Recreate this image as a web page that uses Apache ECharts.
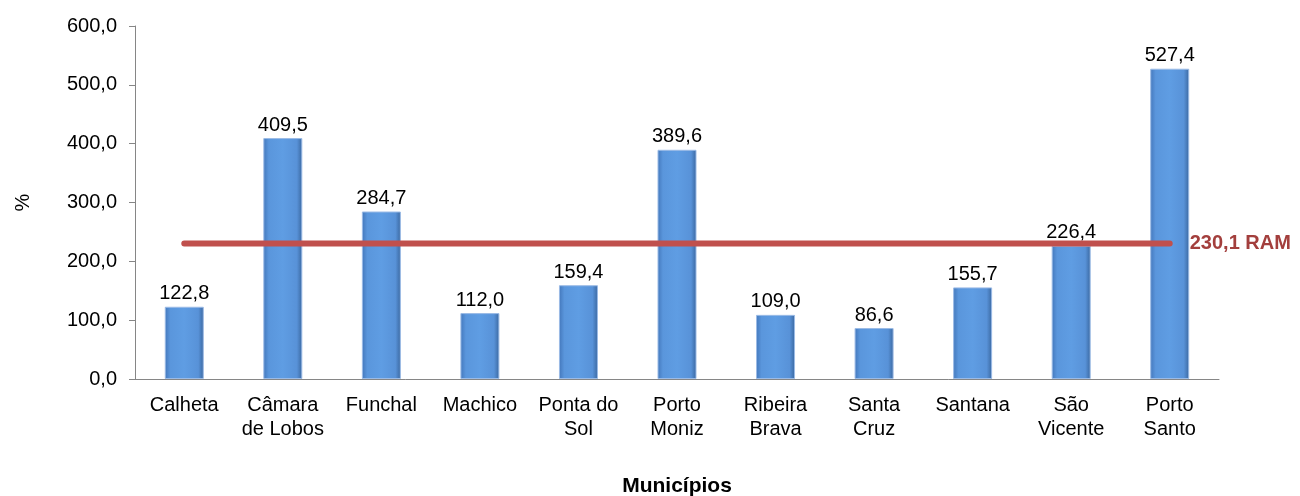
<!DOCTYPE html>
<html>
<head>
<meta charset="utf-8">
<script src="https://cdn.jsdelivr.net/npm/echarts@6/dist/echarts.min.js"></script>
<style>
  html, body { margin: 0; padding: 0; background: #fff; }
  #main { width: 1300px; height: 496px; }
</style>
</head>
<body>
<div id="main"></div>
<script>
var municipios = ['Calheta', 'Câmara\nde Lobos', 'Funchal', 'Machico', 'Ponta do\nSol', 'Porto\nMoniz',
  'Ribeira\nBrava', 'Santa\nCruz', 'Santana', 'São\nVicente', 'Porto\nSanto'];
var valores = [122.8, 409.5, 284.7, 112.0, 159.4, 389.6, 109.0, 86.6, 155.7, 226.4, 527.4];
var mediaRAM = 230.1;
var yTicks = [0, 100, 200, 300, 400, 500, 600];

function fmt(v) { return v.toFixed(1).replace('.', ','); }

var chart = echarts.init(document.getElementById('main'));

var option = {
  animation: false,
  textStyle: { fontFamily: 'Liberation Sans, Arial, sans-serif' },
  grid: { left: 135, right: 81, top: 26, bottom: 117, outerBoundsMode: 'none', containLabel: false },
  xAxis: {
    type: 'category',
    data: municipios,
    name: 'Municípios',
    nameLocation: 'middle',
    nameGap: 97,
    nameTextStyle: { fontSize: 21, fontWeight: 'bold', color: '#000' },
    axisLine: { lineStyle: { color: '#868686', width: 1 } },
    axisTick: { length: 6, lineStyle: { color: '#868686' } },
    axisLabel: { fontSize: 20, color: '#000', lineHeight: 24, margin: 14, interval: 0 }
  },
  yAxis: {
    type: 'value',
    min: yTicks[0],
    max: yTicks[yTicks.length - 1],
    interval: 100,
    name: '%',
    nameLocation: 'middle',
    nameGap: 102,
    nameRotate: 90,
    nameTextStyle: { fontSize: 20, color: '#000' },
    splitLine: { show: false },
    axisLine: { show: true, lineStyle: { color: '#868686', width: 1 } },
    axisTick: { show: true, length: 6, lineStyle: { color: '#868686' } },
    axisLabel: { fontSize: 20, color: '#000', margin: 18, formatter: function (v) { return fmt(v); } }
  },
  series: [
    {
      type: 'bar',
      data: valores,
      barWidth: 39,
      itemStyle: {
        color: new echarts.graphic.LinearGradient(0, 0, 1, 0, [
          { offset: 0, color: '#4377bb' },
          { offset: 0.14, color: '#5a96dc' },
          { offset: 0.5, color: '#5f9de3' },
          { offset: 0.86, color: '#5892d8' },
          { offset: 1, color: '#3a679f' }
        ]),
        borderColor: '#9bbbe6',
        borderWidth: 1
      },
      label: {
        show: true,
        position: 'top',
        distance: 3,
        fontSize: 20,
        color: '#000',
        formatter: function (p) { return fmt(p.value); }
      },
      z: 2
    },
    {
      type: 'line',
      data: municipios.map(function () { return mediaRAM; }),
      symbol: 'none',
      lineStyle: { color: '#c0504d', width: 6, cap: 'round' },
      endLabel: {
        show: true,
        distance: 20,
        fontSize: 20,
        fontWeight: 'bold',
        color: '#a33f3d',
        formatter: function () { return fmt(mediaRAM) + ' RAM'; }
      },
      z: 3
    }
  ]
};

chart.setOption(option);
</script>
</body>
</html>
